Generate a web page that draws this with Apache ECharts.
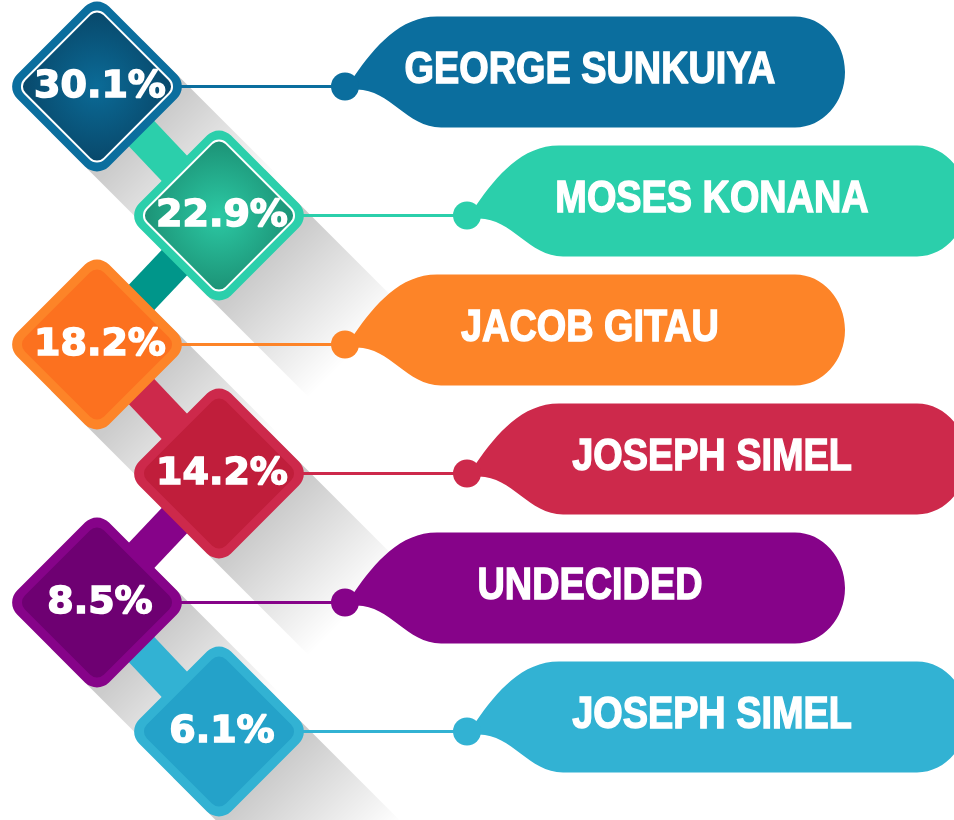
<!DOCTYPE html>
<html>
<head>
<meta charset="utf-8">
<script src="https://cdn.jsdelivr.net/npm/echarts@6/dist/echarts.min.js"></script>
<style>
  html, body { margin: 0; padding: 0; background: #fff; }
  #chart { width: 954px; height: 820px; }
</style>
</head>
<body>
<div id="chart"></div>
<script>
// candidates, top to bottom
const names = ['GEORGE SUNKUIYA', 'MOSES KONANA', 'JACOB GITAU', 'JOSEPH SIMEL', 'UNDECIDED', 'JOSEPH SIMEL']
// share of the vote, %
const shares = [30.1, 22.9, 18.2, 14.2, 8.5, 6.1]

// styles
const ringColors = ['#0b6e9e', '#2bcfab', '#fd8428', '#cd294b', '#860389', '#32b2d3']
const coreColors = ['#0a5a82', '#23b08f', '#fc711f', '#c01e3b', '#6e0072', '#24a2c9']
const linkColors = ['#2bcfab', '#00968a', '#cd294b', '#860389', '#32b2d3']
const columnX = [97, 219]
const side = 130
const shadowLen = 90

let chart = echarts.init(document.getElementById('chart'))

function centre(params, api, i) {
  let p = api.coord([0, i])
  return [params.coordSys.x + columnX[i % 2], p[1]]
}

function coreFill(i) {
  if (i === 0) {
    return new echarts.graphic.RadialGradient(0.5, 0.5, 0.7, [
      { offset: 0, color: '#0b6b97' },
      { offset: 1, color: '#084668' },
    ])
  }
  if (i === 1) {
    return new echarts.graphic.RadialGradient(0.5, 0.5, 0.7, [
      { offset: 0, color: '#2cc9a4' },
      { offset: 1, color: '#1b8f73' },
    ])
  }
  return coreColors[i]
}

function pillPath(px, py, right) {
  let T = py - 70
  let B = py + 41
  let M = (T + B) / 2
  let ry = (B - T) / 2
  let rx = 50
  let k = 0.552
  return 'M' + (px + 9) + ',' + (py - 10) +
    ' C' + (px + 30) + ',' + (py - 40) + ' ' + (px + 55) + ',' + T + ' ' + (px + 92) + ',' + T +
    ' L' + (right - rx) + ',' + T +
    ' C' + (right - rx + rx * k) + ',' + T + ' ' + right + ',' + (M - ry * k) + ' ' + right + ',' + M +
    ' C' + right + ',' + (M + ry * k) + ' ' + (right - rx + rx * k) + ',' + B + ' ' + (right - rx) + ',' + B +
    ' L' + (px + 96) + ',' + B +
    ' C' + (px + 62) + ',' + B + ' ' + (px + 45) + ',' + (py + 3) + ' ' + (px + 12) + ',' + (py + 3) + ' Z'
}

// long drop shadow behind each diamond
function renderShadow(params, api) {
  let i = api.value(1)
  let [cx, cy] = centre(params, api, i)
  let h = side / Math.SQRT2
  let L = shadowLen
  return {
    type: 'polygon',
    shape: {
      points: [
        [cx + h / 2, cy - h / 2],
        [cx + h + L, cy + L],
        [cx + L, cy + h + L],
        [cx - h / 2, cy + h / 2],
      ],
    },
    style: {
      fill: new echarts.graphic.LinearGradient(cx, cy, cx + h / 2 + L, cy + h / 2 + L, [
        { offset: 0, color: 'rgba(0,0,0,0.24)' },
        { offset: 0.35, color: 'rgba(0,0,0,0.2)' },
        { offset: 1, color: 'rgba(0,0,0,0)' },
      ], true),
    },
  }
}

// thick bar joining a diamond to the next one
function renderLink(params, api) {
  let i = api.value(1)
  if (i >= names.length - 1) {
    return null
  }
  let a = centre(params, api, i)
  let b = centre(params, api, i + 1)
  return {
    type: 'line',
    shape: { x1: a[0], y1: a[1], x2: b[0], y2: b[1] },
    style: { stroke: linkColors[i], lineWidth: 36, lineCap: 'butt' },
  }
}

function renderItem(params, api) {
  let i = api.value(1)
  let [cx, cy] = centre(params, api, i)
  let px = cx + 248
  let py = cy
  let color = ringColors[i]
  return {
    type: 'group',
    children: [
      {
        type: 'line',
        shape: { x1: cx, y1: cy, x2: px, y2: py },
        style: { stroke: color, lineWidth: 3 },
      },
      {
        type: 'path',
        shape: { pathData: pillPath(px, py, px + 500) },
        style: { fill: color },
      },
      {
        type: 'circle',
        shape: { cx: px, cy: py, r: 14 },
        style: { fill: color },
      },
      {
        type: 'text',
        x: px + 245,
        y: py - 16,
        scaleX: 0.86,
        style: {
          text: names[i],
          fontFamily: 'Liberation Sans',
          fontWeight: 'bold',
          fontSize: 44,
          fill: '#fff',
          stroke: '#fff',
          lineWidth: 1.4,
          align: 'center',
          verticalAlign: 'middle',
        },
      },
      {
        type: 'group',
        x: cx,
        y: cy,
        rotation: Math.PI / 4,
        children: [
          {
            type: 'rect',
            shape: { x: -side / 2, y: -side / 2, width: side, height: side, r: 17 },
            style: { fill: color },
          },
          {
            type: 'rect',
            shape: { x: -side / 2 + 9, y: -side / 2 + 9, width: side - 18, height: side - 18, r: 10 },
            style: {
              fill: coreFill(i),
              stroke: i < 2 ? '#ffffff' : null,
              lineWidth: 2,
            },
          },
        ],
      },
      {
        type: 'text',
        x: cx + 3,
        y: cy + 1,
        style: {
          text: shares[i].toFixed(1) + '%',
          fontFamily: 'DejaVu Sans',
          fontWeight: 'bold',
          fontSize: 38,
          fill: '#fff',
          stroke: '#fff',
          lineWidth: 1.5,
          align: 'center',
          verticalAlign: 'middle',
        },
      },
    ],
  }
}

let rows = shares.map((v, i) => [0, i, v])

chart.setOption({
  animation: false,
  grid: { left: 0, right: 0, top: 22, bottom: 24 },
  xAxis: { type: 'value', min: 0, max: 1, show: false },
  yAxis: { type: 'category', data: names, inverse: true, show: false },
  series: [
    { type: 'custom', z: 1, silent: true, clip: false, data: rows, encode: { x: 0, y: 1 }, renderItem: renderShadow },
    { type: 'custom', z: 2, silent: true, clip: false, data: rows, encode: { x: 0, y: 1 }, renderItem: renderLink },
    { type: 'custom', z: 3, silent: true, clip: false, data: rows, encode: { x: 0, y: 1 }, renderItem: renderItem },
  ],
})
</script>
</body>
</html>
